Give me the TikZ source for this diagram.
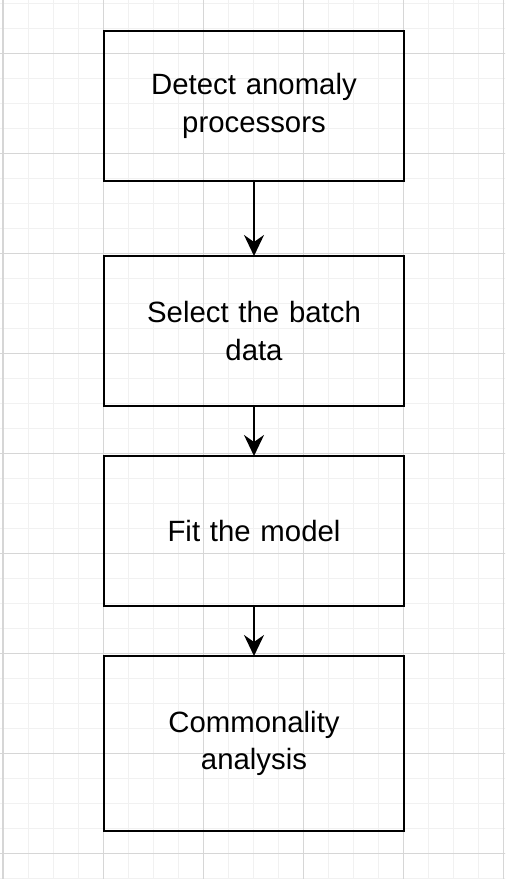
\documentclass[tikz,border=0pt]{standalone}
\usepackage{fontspec}
\setmainfont{Liberation Sans}
\usetikzlibrary{arrows.meta,matrix}
\definecolor{gridminor}{RGB}{241,241,241}
\definecolor{gridmajor}{RGB}{214,214,214}

\begin{document}
\begin{tikzpicture}[line width=0.04cm]
\useasboundingbox (0,0) rectangle (10.1,17.58);
\fill[white] (0,0) rectangle (10.1,17.58);
\begin{scope}
\clip (0,0) rectangle (10.1,17.58);
\begin{scope}[shift={(0.06,0.5)}]
\draw[gridminor,line width=0.02cm,step=0.5] (-1,-1) grid (10.5,17.5);
\draw[gridmajor,line width=0.02cm,step=2] (-1,-1) grid (10.5,17.5);
\end{scope}
\end{scope}

\matrix (m)[matrix of nodes, row sep=0.96cm, inner sep=0pt, anchor=north, nodes={draw, anchor=center, outer sep=0pt, minimum width=6cm, minimum height=3cm, text width=4.8cm, align=center, font=\fontsize{16.7}{21.5}\selectfont}] at (5.08,17.0) {
Detect anomaly\par processors \\[5mm]
Select the batch\par data \\
Fit the model \\
|[minimum height=3.5cm]| Commonality\par analysis \\
};

\draw[-{Stealth[length=0.42cm,width=0.4cm,inset=0.14cm]}] (m-1-1)--(m-2-1);
\draw[-{Stealth[length=0.42cm,width=0.4cm,inset=0.14cm]}] (m-2-1)--(m-3-1);
\draw[-{Stealth[length=0.42cm,width=0.4cm,inset=0.14cm]}] (m-3-1)--(m-4-1);

\end{tikzpicture}
\end{document}
